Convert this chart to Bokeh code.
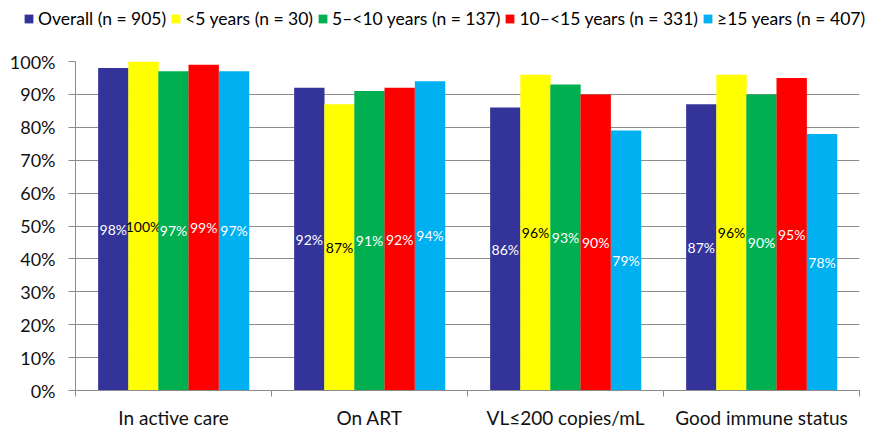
from bokeh.plotting import figure
from bokeh.models import ColumnDataSource, Range1d, FixedTicker, Legend, LegendItem
from bokeh.core.properties import value
from bokeh.embed import file_html
from bokeh.resources import INLINE

categories = ["In active care", "On ART", "VL≤200 copies/mL", "Good immune status"]
series_names = ["Overall (n = 905)", "<5 years (n = 30)", "5–<10 years (n = 137)",
                "10–<15 years (n = 331)", "≥15 years (n = 407)"]
overall = [98, 92, 86, 87]
under5 = [100, 87, 96, 96]
y5to10 = [97, 91, 93, 90]
y10to15 = [99, 92, 90, 95]
y15plus = [97, 94, 79, 78]
y_ticks = [0, 10, 20, 30, 40, 50, 60, 70, 80, 90, 100]

series_values = [overall, under5, y5to10, y10to15, y15plus]
colors = ["#333399", "#FFFF00", "#00B050", "#FF0000", "#00B0F0"]
label_colors = ["white", "black", "white", "white", "white"]
offsets = [-0.307, -0.153, 0.0, 0.154, 0.309]
bar_w = 0.155
FONT = "Lato"

LEG_H = 30
p = figure(width=872, height=431 - LEG_H, x_range=Range1d(0, 4), y_range=Range1d(0, 100),
           output_backend="svg", toolbar_location=None,
           min_border_left=75, min_border_right=13, min_border_top=61 - LEG_H,
           min_border_bottom=37)
p.outline_line_color = None
p.background_fill_color = "white"
p.border_fill_color = "white"

# legend-only figure on top (separate root, so its frame spans the full width)
pl = figure(width=872, height=LEG_H, x_range=Range1d(0, 1), y_range=Range1d(0, 1),
            output_backend="svg", toolbar_location=None, x_axis_type=None, y_axis_type=None,
            min_border_left=0, min_border_right=0, min_border_top=0, min_border_bottom=0)
pl.outline_line_color = None
pl.xgrid.grid_line_color = None
pl.ygrid.grid_line_color = None

items = []
for name, vals, col, lcol, off in zip(series_names, series_values, colors, label_colors, offsets):
    src = ColumnDataSource(dict(
        x=[i + 0.5 + off for i in range(len(categories))],
        top=vals,
        mid=[v / 2 for v in vals],
        lab=[f"{v}%" for v in vals],
    ))
    p.vbar(x="x", top="top", width=bar_w, bottom=0, source=src,
           fill_color=col, line_color=None)
    p.text(x="x", y="mid", text="lab", source=src, text_color=lcol,
           text_font=value(FONT), text_font_size="14px",
           text_align="center", text_baseline="middle")
    # swatch renderer for the legend (kept outside the visible range)
    swatch = pl.vbar(x=[5], top=[0], width=0.1, fill_color=col, line_color=None)
    items.append(LegendItem(label=name, renderers=[swatch]))

legend = Legend(items=items, orientation="horizontal", location=(23, 1),
                label_text_font=FONT, label_text_font_size="17.5px", label_text_color="#000000",
                glyph_width=11, glyph_height=11, label_standoff=4, spacing=4,
                padding=0, margin=0, border_line_color=None, background_fill_alpha=0,
                label_height=20)
pl.add_layout(legend, "center")

# y axis
p.yaxis.ticker = FixedTicker(ticks=y_ticks)
p.yaxis.major_label_overrides = {t: f"{t}%" for t in y_ticks}
p.yaxis.major_label_text_font = FONT
p.yaxis.major_label_text_font_size = "18px"
p.yaxis.major_label_text_color = "#111111"
p.yaxis.axis_line_color = "#8C8C8C"
p.yaxis.major_tick_line_color = "#8C8C8C"
p.yaxis.major_tick_out = 7
p.yaxis.major_tick_in = 0
p.yaxis.minor_tick_line_color = None
p.yaxis.major_label_standoff = 13

# x axis
centers = [i + 0.5 for i in range(len(categories))]
p.xaxis.ticker = FixedTicker(ticks=centers, minor_ticks=list(range(len(categories) + 1)))
p.xaxis.major_label_overrides = {c: lab for c, lab in zip(centers, categories)}
p.xaxis.major_label_text_font = FONT
p.xaxis.major_label_text_font_size = "19px"
p.xaxis.major_label_text_color = "#111111"
p.xaxis.axis_line_color = "#8C8C8C"
p.xaxis.major_tick_line_color = None
p.xaxis.major_tick_out = 0
p.xaxis.major_tick_in = 0
p.xaxis.minor_tick_line_color = "#8C8C8C"
p.xaxis.minor_tick_out = 6
p.xaxis.minor_tick_in = 0
p.xaxis.major_label_standoff = 9

p.xgrid.grid_line_color = None
p.ygrid.ticker = FixedTicker(ticks=y_ticks[1:])
p.ygrid.grid_line_color = "#8C8C8C"

open("out.html", "w").write(file_html([pl, p], INLINE))
